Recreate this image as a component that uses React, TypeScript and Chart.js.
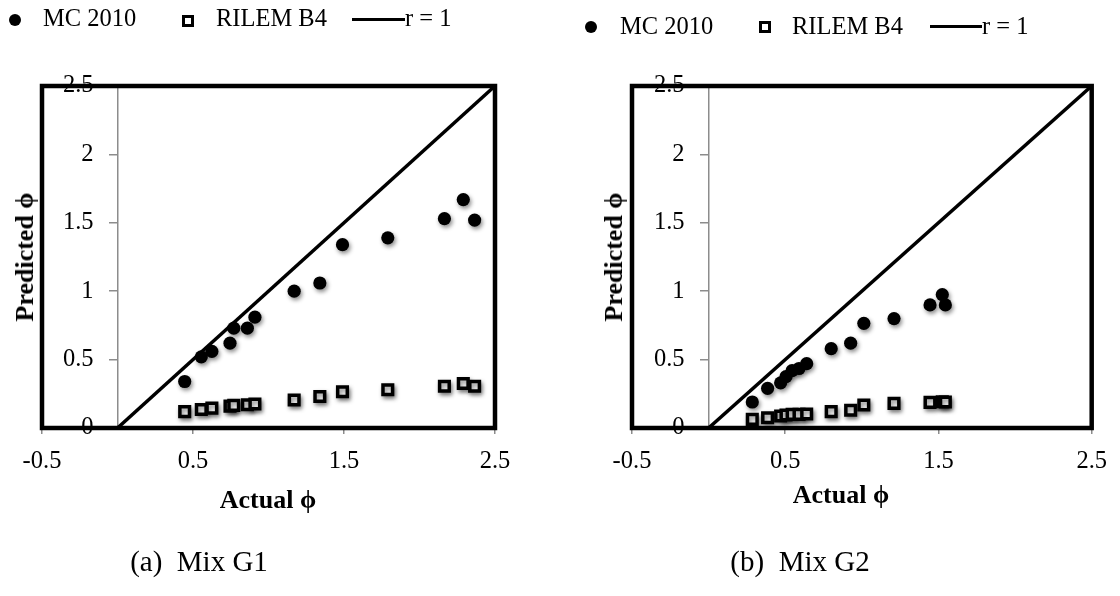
import React, { useEffect, useRef } from "react";
import { Chart, registerables } from "chart.js";

Chart.register(...registerables);

// ---------- data ----------
const seriesLabels = ["MC 2010", "RILEM B4", "r = 1"];

// Mix G1
const g1Actual = [0.445, 0.555, 0.625, 0.745, 0.77, 0.86, 0.91, 1.17, 1.34, 1.49, 1.79, 2.165, 2.29, 2.365];
const g1MC2010 = [0.34, 0.52, 0.56, 0.62, 0.73, 0.73, 0.81, 1.0, 1.06, 1.34, 1.39, 1.53, 1.67, 1.52];
const g1RilemB4 = [0.12, 0.135, 0.145, 0.16, 0.165, 0.17, 0.175, 0.205, 0.23, 0.265, 0.28, 0.305, 0.325, 0.305];

// Mix G2
const g2Actual = [0.285, 0.385, 0.47, 0.505, 0.545, 0.59, 0.64, 0.8, 0.927, 1.013, 1.21, 1.445, 1.525, 1.545];
const g2MC2010 = [0.19, 0.29, 0.33, 0.375, 0.42, 0.435, 0.47, 0.58, 0.62, 0.765, 0.8, 0.9, 0.975, 0.9];
const g2RilemB4 = [0.063, 0.075, 0.088, 0.095, 0.1, 0.1, 0.102, 0.12, 0.13, 0.168, 0.18, 0.187, 0.192, 0.19];

// r = 1 line
const lineX = [0, 2.5];
const lineY = [0, 2.5];

// axes
const xMin = -0.5, xMax = 2.5, xStep = 1;
const yMin = 0, yMax = 2.5, yStep = 0.5;

const xTitle = "Actual \u03d5";
const yTitle = "Predicted \u03d5";
const captions = ["(a)\u00a0\u00a0Mix G1", "(b)\u00a0\u00a0Mix G2"];

// ---------- styling ----------
const FONT = '"Liberation Serif", "Times New Roman", Times, serif';
const TICK_SIZE = 24.5;
const AXIS_GRAY = "#8c8c8c";

const borderPlugin = {
  id: "plotBorder",
  beforeDatasetsDraw(chart: any) {
    const { ctx, chartArea: a } = chart;
    ctx.save();
    ctx.strokeStyle = "#000";
    ctx.lineWidth = 4.5;
    ctx.lineJoin = "miter";
    ctx.strokeRect(a.left, a.top, a.right - a.left, a.bottom - a.top);
    ctx.restore();
  },
};

// y axis sits at x = 0 inside the plot; push its labels left of the tick marks
const yLabelShiftPlugin = {
  id: "yLabelShift",
  beforeDraw(chart: any) {
    const s: any = chart.scales.y;
    if (!s || typeof s.getLabelItems !== "function") return;
    const items: any = s.getLabelItems(chart.chartArea);
    if (!items || items._shifted) return;
    items._shifted = true;
    const shift = s.options.grid.tickLength + s.options.ticks.padding;
    items.forEach((it: any) => {
      if (it.options && it.options.translation) it.options.translation[0] -= shift;
    });
  },
};

const shadowPlugin = {
  id: "pointShadow",
  beforeDatasetDraw(chart: any, args: any) {
    const ds = chart.data.datasets[args.index];
    if (ds.showLine) return;
    const ctx = chart.ctx;
    ctx.save();
    ctx.shadowColor = "rgba(0,0,0,0.45)";
    ctx.shadowBlur = 4;
    ctx.shadowOffsetX = 1.5;
    ctx.shadowOffsetY = 2.5;
  },
  afterDatasetDraw(chart: any, args: any) {
    const ds = chart.data.datasets[args.index];
    if (ds.showLine) return;
    chart.ctx.restore();
  },
};

function makeConfig(actual: number[], mc: number[], b4: number[], padLeft: number, padRight: number) {
  return {
    type: "scatter" as const,
    data: {
      datasets: [
        {
          label: seriesLabels[2],
          data: lineX.map((x, i) => ({ x, y: lineY[i] })),
          showLine: true,
          borderColor: "#000",
          borderWidth: 3.5,
          pointRadius: 0,
          fill: false,
        },
        {
          label: seriesLabels[1],
          data: actual.map((x, i) => ({ x, y: b4[i] })),
          pointStyle: "rect",
          pointRadius: 6.8,
          backgroundColor: "#fff",
          borderColor: "#000",
          borderWidth: 3.5,
        },
        {
          label: seriesLabels[0],
          data: actual.map((x, i) => ({ x, y: mc[i] })),
          pointStyle: "circle",
          pointRadius: 6.6,
          backgroundColor: "#000",
          borderColor: "#000",
          borderWidth: 0,
        },
      ],
    },
    options: {
      responsive: false,
      maintainAspectRatio: false,
      animation: false,
      layout: { padding: { left: padLeft, right: padRight, top: 86, bottom: 128 } },
      plugins: { legend: { display: false }, tooltip: { enabled: false } },
      scales: {
        x: {
          type: "linear",
          position: "bottom",
          min: xMin,
          max: xMax,
          ticks: {
            stepSize: xStep,
            color: "#000",
            font: { family: FONT, size: TICK_SIZE },
            padding: 13,
            autoSkip: false,
            maxRotation: 0,
            callback: (v: any) => String(v),
          },
          grid: { drawOnChartArea: false, drawTicks: true, tickLength: 6, color: AXIS_GRAY, lineWidth: 1.5 },
          border: { display: true, color: AXIS_GRAY, width: 1.5 },
          afterFit: (s: any) => {
            s.height = 40;
          },
        },
        y: {
          type: "linear",
          position: { x: 0 },
          min: yMin,
          max: yMax,
          ticks: {
            stepSize: yStep,
            color: "#000",
            font: { family: FONT, size: TICK_SIZE },
            padding: 16,
            callback: (v: any) => String(v),
          },
          grid: { drawOnChartArea: false, drawTicks: true, tickLength: 8, color: AXIS_GRAY, lineWidth: 1.5 },
          border: { display: true, color: AXIS_GRAY, width: 1.5 },
        },
      },
    },
    plugins: [yLabelShiftPlugin, borderPlugin, shadowPlugin],
  };
}

function ChartCanvas({ left, config }: { left: number; config: any }) {
  const ref = useRef<HTMLCanvasElement | null>(null);
  useEffect(() => {
    if (!ref.current) return;
    const chart = new Chart(ref.current, config);
    return () => chart.destroy();
  }, []);
  return (
    <canvas
      ref={ref}
      width={560}
      height={596}
      style={{ position: "absolute", left, top: 0, width: 560, height: 596 }}
    />
  );
}

function Txt({
  x,
  baseline,
  size,
  bold,
  center,
  children,
}: {
  x: number;
  baseline: number;
  size: number;
  bold?: boolean;
  center?: boolean;
  children: any;
}) {
  return (
    <div
      style={{
        position: "absolute",
        left: x,
        top: baseline - 0.8375 * size,
        fontFamily: FONT,
        fontSize: size,
        fontWeight: bold ? "bold" : "normal",
        lineHeight: 1,
        whiteSpace: "nowrap",
        color: "#000",
        transform: center ? "translateX(-50%)" : undefined,
      }}
    >
      {children}
    </div>
  );
}

function Legend({
  circle,
  square,
  line,
  mcX,
  b4X,
  rX,
  baseline,
}: {
  circle: [number, number];
  square: [number, number];
  line: [number, number, number];
  mcX: number;
  b4X: number;
  rX: number;
  baseline: number;
}) {
  return (
    <>
      <div
        style={{
          position: "absolute",
          left: circle[0] - 6,
          top: circle[1] - 6,
          width: 12,
          height: 12,
          borderRadius: "50%",
          background: "#000",
        }}
      />
      <Txt x={mcX} baseline={baseline} size={24.5}>
        {seriesLabels[0]}
      </Txt>
      <div
        style={{
          position: "absolute",
          left: square[0] - 6,
          top: square[1] - 6,
          width: 12,
          height: 12,
          boxSizing: "border-box",
          border: "3.5px solid #000",
          background: "#fff",
        }}
      />
      <Txt x={b4X} baseline={baseline} size={24.5}>
        {seriesLabels[1]}
      </Txt>
      <div
        style={{
          position: "absolute",
          left: line[0],
          top: line[2] - 1.5,
          width: line[1] - line[0],
          height: 3,
          background: "#000",
        }}
      />
      <Txt x={rX} baseline={baseline} size={24.5}>
        {seriesLabels[2]}
      </Txt>
    </>
  );
}

function YTitle({ cx, cy }: { cx: number; cy: number }) {
  return (
    <div
      style={{
        position: "absolute",
        left: cx,
        top: cy,
        fontFamily: FONT,
        fontSize: 26,
        fontWeight: "bold",
        lineHeight: 1,
        whiteSpace: "nowrap",
        transform: "translate(-50%, -50%) rotate(-90deg)",
      }}
    >
      {yTitle}
    </div>
  );
}

function XTitle({ cx, cy }: { cx: number; cy: number }) {
  return (
    <div
      style={{
        position: "absolute",
        left: cx,
        top: cy,
        fontFamily: FONT,
        fontSize: 26,
        fontWeight: "bold",
        lineHeight: 1,
        whiteSpace: "nowrap",
        transform: "translate(-50%, -50%)",
      }}
    >
      {xTitle}
    </div>
  );
}

export default function App() {
  const cfg1 = makeConfig(g1Actual, g1MC2010, g1RilemB4, 42, 65);
  const cfg2 = makeConfig(g2Actual, g2MC2010, g2RilemB4, 72, 25);
  return (
    <div
      style={{
        position: "absolute",
        left: 0,
        top: 0,
        width: 1120,
        height: 596,
        background: "#fff",
        overflow: "hidden",
      }}
    >
      <ChartCanvas left={0} config={cfg1} />
      <ChartCanvas left={560} config={cfg2} />

      <Legend circle={[15, 19.5]} square={[187.5, 20.5]} line={[352, 405, 19]} mcX={43} b4X={216} rX={405} baseline={27} />
      <Legend circle={[590.5, 26.5]} square={[764.5, 27]} line={[930, 982, 26.5]} mcX={620} b4X={792} rX={982} baseline={35} />

      <YTitle cx={25} cy={257} />
      <YTitle cx={614} cy={257} />
      <XTitle cx={268} cy={500} />
      <XTitle cx={841} cy={495} />

      <Txt x={199} baseline={571} size={29} center>
        {captions[0]}
      </Txt>
      <Txt x={800} baseline={571} size={29} center>
        {captions[1]}
      </Txt>
    </div>
  );
}
